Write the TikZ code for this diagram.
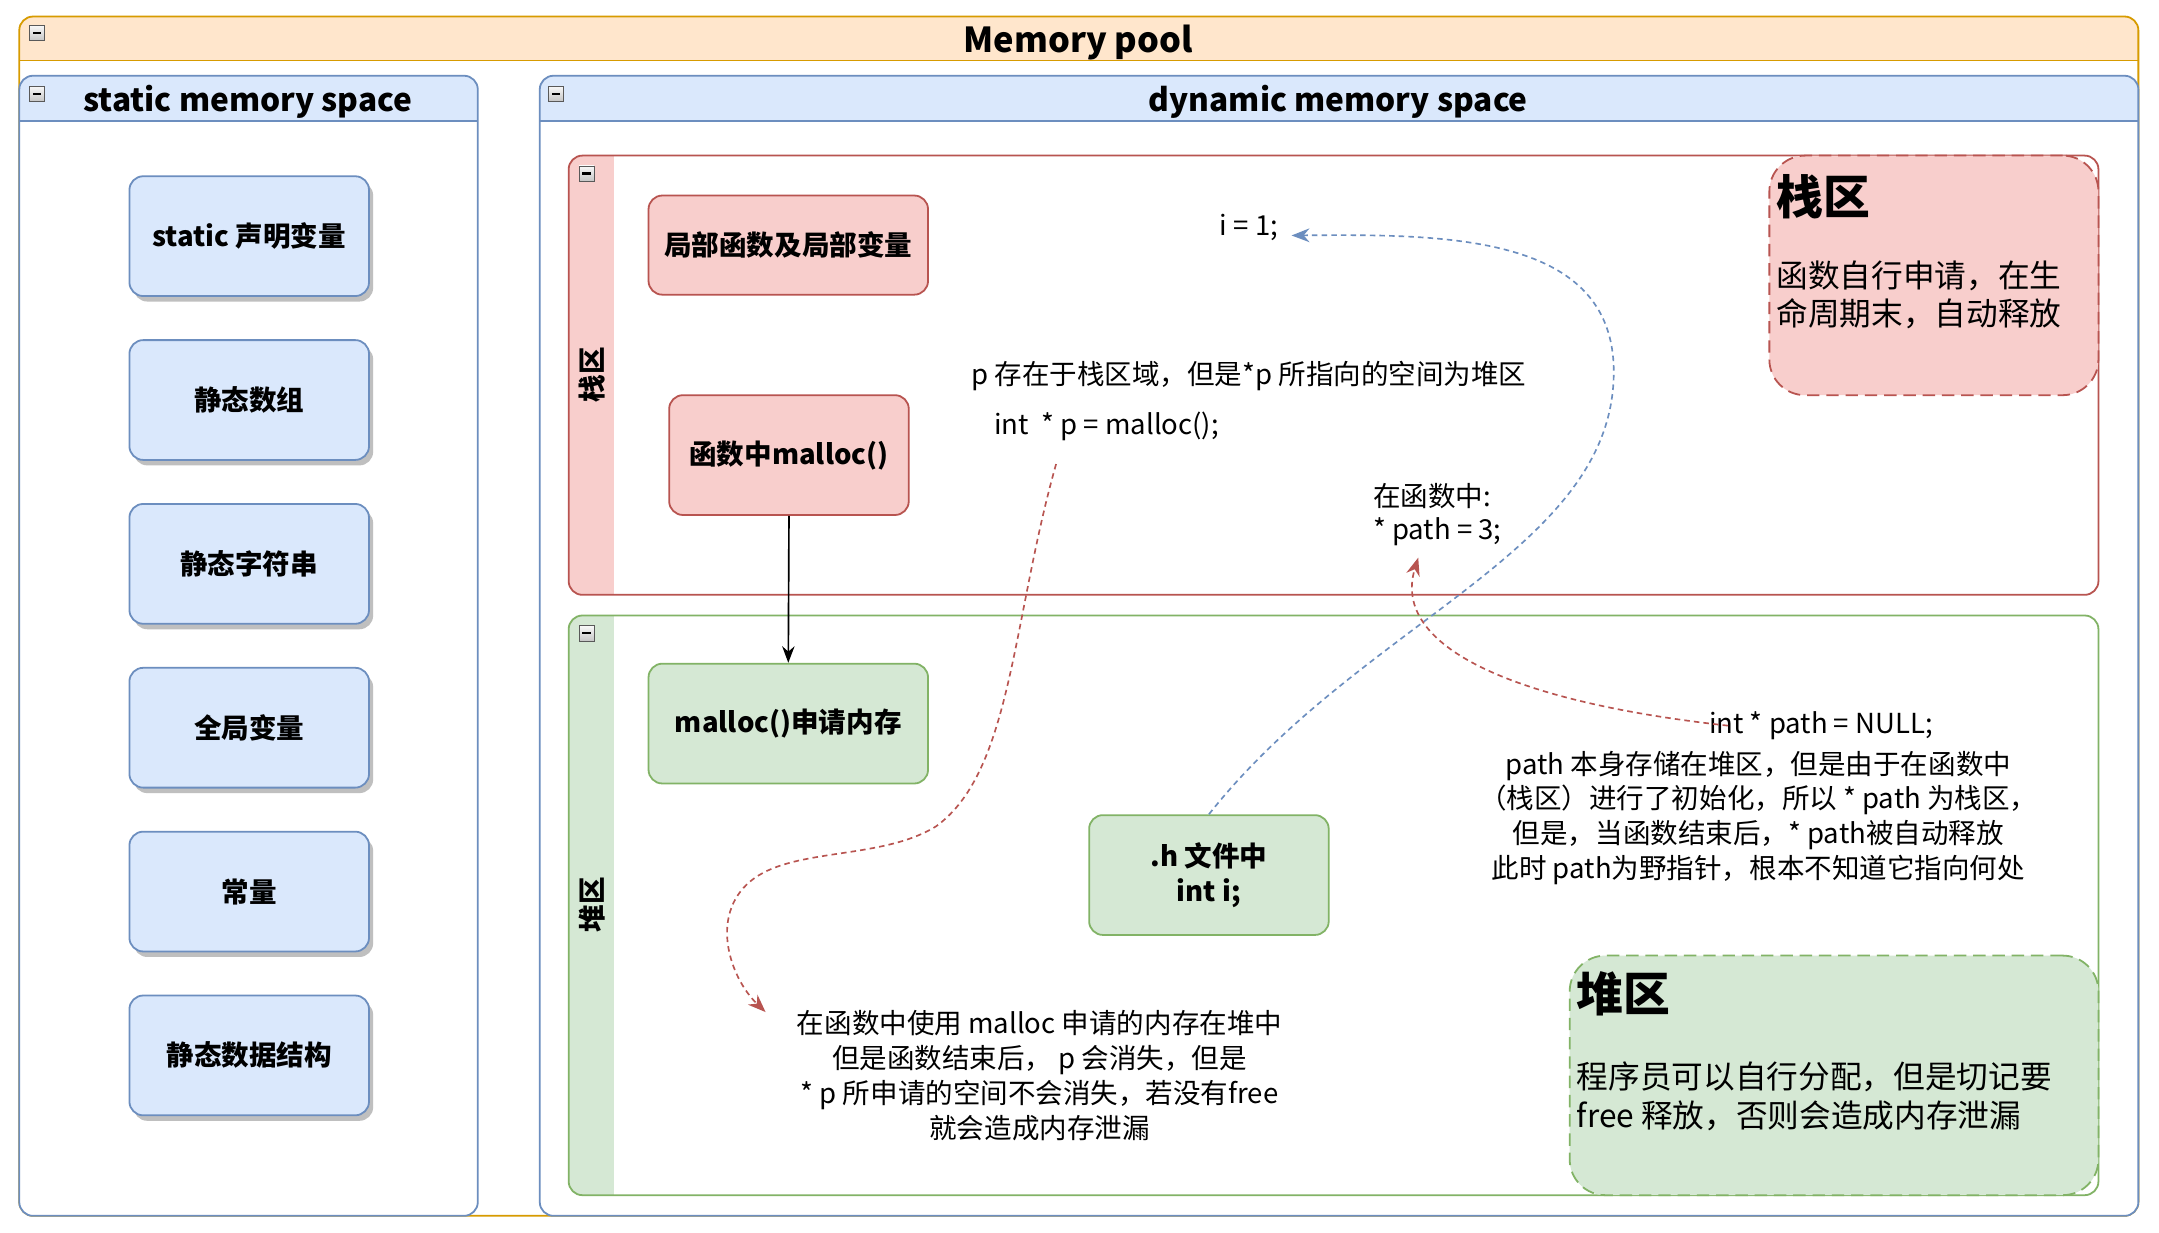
\documentclass[tikz,border=0pt]{standalone}
\usepackage{fontspec}
\setmainfont{Noto Sans CJK SC}
\usetikzlibrary{arrows.meta,shadows}
\definecolor{ofill}{HTML}{FFE6CC}
\definecolor{ostroke}{HTML}{D79B00}
\definecolor{bfill}{HTML}{DAE8FC}
\definecolor{bstroke}{HTML}{6C8EBF}
\definecolor{rfill}{HTML}{F8CECC}
\definecolor{rstroke}{HTML}{B85450}
\definecolor{gfill}{HTML}{D5E8D4}
\definecolor{gstroke}{HTML}{82B366}
% header panel: x1,y1,x2,y2,yheader,fill,stroke
\newcommand{\hdrpanel}[7]{%
  \begin{scope}
    \clip[rounded corners=10pt] (#1,#2) rectangle (#3,#4);
    \fill[white] (#1,#2) rectangle (#3,#4);
    \fill[#6] (#1,#2) rectangle (#3,#5);
  \end{scope}
  \draw[#7, line width=1.3pt, rounded corners=10pt] (#1,#2) rectangle (#3,#4);
  \draw[#7, line width=1.3pt] (#1,#5) -- (#3,#5);
}
% swimlane panel: x1,y1,x2,y2,xstrip,fill,stroke
\newcommand{\lanepanel}[7]{%
  \begin{scope}
    \clip[rounded corners=10pt] (#1,#2) rectangle (#3,#4);
    \fill[white] (#1,#2) rectangle (#3,#4);
    \fill[#6] (#1,#2) rectangle (#5,#4);
  \end{scope}
  \draw[#7, line width=1.3pt, rounded corners=10pt] (#1,#2) rectangle (#3,#4);
}
\begin{document}
\begin{tikzpicture}[x=1pt,y=-1pt,
  collapse/.style={draw=gray!70!black, line width=0.6pt, top color=gray!5, bottom color=gray!45,
    minimum width=11pt, minimum height=11pt, inner sep=0pt,
    path picture={\draw[black, line width=1.6pt] ([xshift=-3pt]path picture bounding box.center) -- ([xshift=3pt]path picture bounding box.center);}},
  boxtxt/.style={font=\bfseries\fontsize{20}{25}\selectfont, align=center},
  sbox/.style={boxtxt, draw=bstroke, fill=bfill, line width=1.3pt, rounded corners=10pt,
    minimum width=174pt, minimum height=87pt,
    drop shadow={shadow xshift=3pt, shadow yshift=-4pt, fill=black!25, opacity=1}},
  rbox/.style={boxtxt, draw=rstroke, fill=rfill, line width=1.3pt, rounded corners=10pt},
  gbox/.style={boxtxt, draw=gstroke, fill=gfill, line width=1.3pt, rounded corners=10pt},
  txt/.style={font=\fontsize{20}{25.3}\selectfont, align=center, inner sep=0pt},
  title/.style={font=\bfseries\fontsize{23}{28}\selectfont, inner sep=0pt},
  lanelbl/.style={font=\bfseries\fontsize{20}{24}\selectfont, rotate=90, inner sep=0pt},
  calltitle/.style={font=\bfseries\fontsize{34}{38}\selectfont, anchor=west, inner sep=0pt},
  calltxt/.style={font=\fontsize{23}{28}\selectfont, anchor=west, align=left, inner sep=0pt},
  dashb/.style={draw=bstroke, line width=1.2pt, dash pattern=on 4pt off 3pt, -{Stealth[length=13pt,width=10pt]}},
  dashr/.style={draw=rstroke, line width=1.2pt, dash pattern=on 4pt off 3pt, -{Stealth[length=13pt,width=10pt]}}
]
\useasboundingbox[fill=white] (0,0) rectangle (1568,895);

% Memory pool
\hdrpanel{14}{12}{1553}{883}{44}{ofill}{ostroke}
\node[title, font=\bfseries\fontsize{25}{30}\selectfont] (mp) at (783,31) {Memory pool};
\node[collapse] (c1) at (27,24) {};

% static memory space
\hdrpanel{14}{55}{347}{883}{88}{bfill}{bstroke}
\node[title] (sms) at (180,74) {static memory space};
\node[collapse] (c2) at (27,68) {};

% dynamic memory space
\hdrpanel{392}{55}{1553}{883}{88}{bfill}{bstroke}
\node[title] (dms) at (972,74) {dynamic memory space};
\node[collapse] (c3) at (404,68) {};

% stack lane
\lanepanel{413}{113}{1524}{432}{446}{rfill}{rstroke}
\node[lanelbl] (stl) at (430,272) {栈区};
\node[collapse] (c4) at (426,126) {};

% heap lane
\lanepanel{413}{447}{1524}{868}{446}{gfill}{gstroke}
\node[lanelbl] (hpl) at (430,657) {堆区};
\node[collapse] (c5) at (426,460) {};

% static boxes
\node[sbox] (s1) at (181,171.5) {static 声明变量};
\node[sbox] (s2) at (181,290.5) {静态数组};
\node[sbox] (s3) at (181,409.5) {静态字符串};
\node[sbox] (s4) at (181,528.5) {全局变量};
\node[sbox] (s5) at (181,647.5) {常量};
\node[sbox] (s6) at (181,766.5) {静态数据结构};

% stack boxes
\node[rbox, minimum width=203pt, minimum height=72pt] (ra) at (572.5,178) {局部函数及局部变量};
\node[rbox, minimum width=174pt, minimum height=87pt] (rb) at (573,330.5) {函数中malloc()};

% heap boxes
\node[gbox, minimum width=203pt, minimum height=87pt] (ga) at (572.5,525.5) {malloc()申请内存};
\node[gbox, minimum width=174pt, minimum height=87pt] (gb) at (878,635.5) {.h 文件中\\int i;};

\draw[black, line width=1.2pt, -{Stealth[length=12pt,width=9pt]}] (rb.south) -- (ga.north);

% callouts
\node[draw=rstroke, fill=rfill, line width=1.3pt, dash pattern=on 9pt off 5pt, rounded corners=26pt,
  minimum width=239pt, minimum height=174pt, inner sep=0pt] (sc) at (1404.5,200) {};
\node[calltitle] (sct) at (1290,143) {栈区};
\node[calltxt] (scb) at (1290,214) {函数自行申请，在生\\命周期末，自动释放};

\node[draw=gstroke, fill=gfill, line width=1.3pt, dash pattern=on 9pt off 5pt, rounded corners=26pt,
  minimum width=384pt, minimum height=174pt, inner sep=0pt] (hc) at (1332,781) {};
\node[calltitle] (hct) at (1145,722) {堆区};
\node[calltxt] (hcb) at (1145,796) {程序员可以自行分配，但是切记要\\free 释放，否则会造成内存泄漏};

% texts
\node[txt] (i1) at (907,165) {i = 1;};
\node[txt] (pnote) at (907,273) {p 存在于栈区域，但是*p 所指向的空间为堆区};
\node[txt, anchor=west] (pcode) at (722,310) {int\ \ * p = malloc();};
\node[txt, anchor=west, align=left, font=\fontsize{20}{24}\selectfont] (fn) at (997,374) {在函数中:\\* path = 3;};
\node[txt, anchor=west] (nullc) at (1241,527) {int * path = NULL;};
\node[txt] (rpara) at (1277,594) {path 本身存储在堆区，但是由于在函数中\\（栈区）进行了初始化，所以 * path 为栈区，\\但是，当函数结束后，* path被自动释放\\此时 path为野指针，根本不知道它指向何处};
\node[txt] (bpara) at (755,781) {在函数中使用 malloc 申请的内存在堆中\\但是函数结束后，\ p 会消失，但是\\* p 所申请的空间不会消失，若没有free\\就会造成内存泄漏};

% connector coordinates
\coordinate (iend) at (938,171);
\coordinate (r1s) at (767,337);
\coordinate (r1e) at (556,735);
\coordinate (r2s) at (1255,527);
\coordinate (r2e) at (1030,405);

\draw[dashb] (gb.north) .. controls (990,450) and (1172,400) .. (1172,270)
  .. controls (1172,170) and (1050,170) .. (iend);
\draw[dashr] (r1s) .. controls (735,450) and (735,560) .. (680,600)
  .. controls (640,625) and (575,615) .. (545,640)
  .. controls (515,665) and (530,710) .. (r1e);
\draw[dashr] (r2s) .. controls (1100,510) and (1010,470) .. (r2e);
\end{tikzpicture}
\end{document}
